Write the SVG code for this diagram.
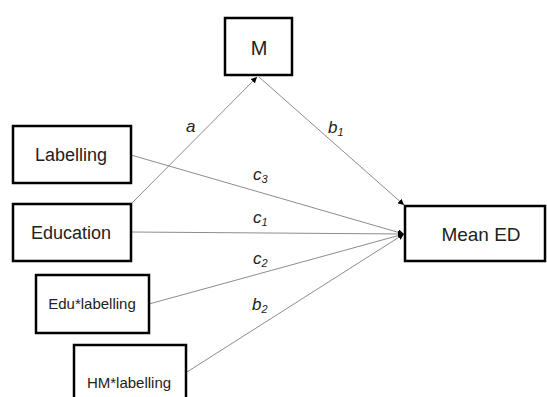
<svg xmlns="http://www.w3.org/2000/svg" width="547" height="397" viewBox="0 0 547 397">
<defs>
<style>
.box{fill:#fff;stroke:#000;stroke-width:2.5}
.t{font-family:"Liberation Sans",Arial,sans-serif;fill:#222;text-anchor:middle}
.lbl{font-family:"Liberation Sans",Arial,sans-serif;font-style:italic;fill:#222;font-size:17px}
.sub{font-size:11px}
.ln{stroke:#8c8c8c;stroke-width:1;fill:none;marker-end:url(#ah)}
</style>
<marker id="ah" viewBox="0 0 10 10" refX="10" refY="5" markerWidth="6" markerHeight="6" orient="auto" markerUnits="userSpaceOnUse">
<path d="M0,0 L10,5 L0,10 z" fill="#000"/>
</marker>
</defs>
<rect width="547" height="397" fill="#fff"/>
<g id="connectors">
<line class="ln" x1="131" y1="204" x2="257" y2="77"/>
<line class="ln" x1="259" y1="77" x2="404" y2="205"/>
<line class="ln" x1="131" y1="155" x2="404" y2="234"/>
<line class="ln" x1="131" y1="232" x2="404" y2="234"/>
<line class="ln" x1="149" y1="304" x2="404" y2="234"/>
<line class="ln" x1="187" y1="372" x2="404" y2="234"/>
</g>
<g id="labels">
<text class="lbl" x="186" y="132">a</text>
<text class="lbl" x="328" y="133">b<tspan class="sub" dy="3">1</tspan></text>
<text class="lbl" x="253" y="180">c<tspan class="sub" dy="3">3</tspan></text>
<text class="lbl" x="253" y="223">c<tspan class="sub" dy="3">1</tspan></text>
<text class="lbl" x="253" y="264">c<tspan class="sub" dy="3">2</tspan></text>
<text class="lbl" x="252" y="310">b<tspan class="sub" dy="3">2</tspan></text>
</g>
<g id="node-M">
<rect class="box" x="225" y="18" width="67" height="57"/>
<text class="t" x="259" y="55" font-size="20">M</text>
</g>
<g id="node-MeanED">
<rect class="box" x="405" y="206" width="140" height="55"/>
<text class="t" x="481" y="241" font-size="19">Mean ED</text>
</g>
<g id="node-Labelling">
<rect class="box" x="13" y="126" width="118" height="57"/>
<text class="t" x="71" y="161" font-size="18">Labelling</text>
</g>
<g id="node-Education">
<rect class="box" x="13" y="204" width="118" height="57"/>
<text class="t" x="71" y="239" font-size="18">Education</text>
</g>
<g id="node-EduLabelling">
<rect class="box" x="36" y="275" width="113" height="58"/>
<text class="t" x="92" y="309" font-size="15">Edu*labelling</text>
</g>
<g id="node-HMLabelling">
<rect class="box" x="74" y="345" width="112" height="60"/>
<text class="t" x="129" y="388" font-size="15">HM*labelling</text>
</g>
</svg>
